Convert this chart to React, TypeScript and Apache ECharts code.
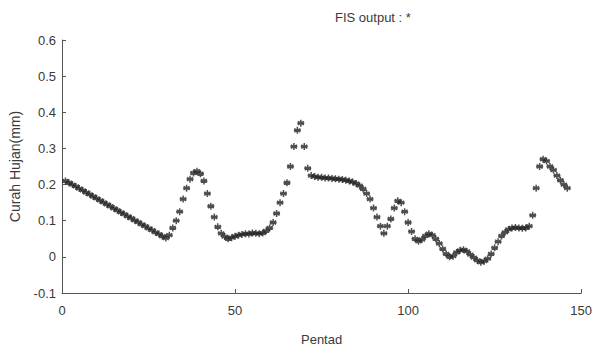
import React, { useEffect, useRef } from "react";
import * as echarts from "echarts";

const titleText = "FIS output : *";
const xName = "Pentad";
const yName = "Curah Hujan(mm)";
const xTicks = [0, 50, 100, 150];
const yTicks = [-0.1, 0, 0.1, 0.2, 0.3, 0.4, 0.5, 0.6];

// FIS output per pentad (pentad 1 .. 146)
const fisOutput = [
  0.210, 0.205, 0.200, 0.195, 0.189, 0.184, 0.178, 0.173, 0.167, 0.162,
  0.156, 0.151, 0.145, 0.140, 0.134, 0.129, 0.123, 0.118, 0.112, 0.107,
  0.101, 0.096, 0.090, 0.085, 0.079, 0.074, 0.068, 0.063, 0.057, 0.052,
  0.060, 0.080, 0.100, 0.125, 0.160, 0.190, 0.215, 0.232, 0.237, 0.230,
  0.210, 0.175, 0.140, 0.110, 0.083, 0.065, 0.056, 0.050, 0.053, 0.057,
  0.060, 0.062, 0.064, 0.063, 0.066, 0.065, 0.064, 0.066, 0.072, 0.080,
  0.095, 0.120, 0.150, 0.175, 0.205, 0.250, 0.305, 0.350, 0.370, 0.305,
  0.245, 0.225, 0.222, 0.220, 0.220, 0.218, 0.218, 0.217, 0.216, 0.215,
  0.214, 0.212, 0.210, 0.207, 0.203, 0.197, 0.188, 0.175, 0.160, 0.135,
  0.110, 0.085, 0.065, 0.085, 0.105, 0.135, 0.155, 0.150, 0.125, 0.095,
  0.070, 0.050, 0.043, 0.048, 0.058, 0.064, 0.060, 0.050, 0.037, 0.022,
  0.008, 0.000, 0.002, 0.012, 0.018, 0.020, 0.015, 0.006, -0.002, -0.010,
  -0.015, -0.012, -0.005, 0.008, 0.025, 0.042, 0.058, 0.068, 0.076, 0.080,
  0.081, 0.080, 0.079, 0.080, 0.085, 0.115, 0.190, 0.250, 0.270, 0.265,
  0.250, 0.240, 0.225, 0.212, 0.200, 0.190,
];

const FONT = "'Liberation Sans', Arial, sans-serif";
const TXT = "#3a3a3a";
const AXIS = "#555";

const asterisk =
  "path://M5 0 L5 10 M0.7 2.5 L9.3 7.5 M9.3 2.5 L0.7 7.5 M0 5 L10 5";

export default function App() {
  const ref = useRef<HTMLDivElement>(null);
  useEffect(() => {
    if (!ref.current) return;
    const chart = echarts.init(ref.current, null, { renderer: "svg" });
    const data = fisOutput.map((v, i) => [i + 1, v]);
    chart.setOption({
      animation: false,
      backgroundColor: "#fff",
      grid: { left: 61, right: 10, top: 40, bottom: 49, containLabel: false },
      graphic: [
        {
          type: "text",
          left: 335,
          top: 11,
          style: { text: titleText, fontSize: 13, fontFamily: FONT, fill: TXT },
        },
      ],
      xAxis: {
        type: "value",
        min: xTicks[0],
        max: xTicks[xTicks.length - 1],
        interval: 50,
        name: xName,
        nameLocation: "middle",
        nameGap: 40,
        nameTextStyle: { fontSize: 13, fontFamily: FONT, color: TXT },
        axisLine: { show: true, onZero: false, lineStyle: { color: AXIS, width: 1 } },
        axisTick: { show: true, inside: true, length: 4, lineStyle: { color: AXIS } },
        axisLabel: { fontSize: 13, fontFamily: FONT, color: TXT, margin: 11 },
        splitLine: { show: false },
      },
      yAxis: {
        type: "value",
        min: yTicks[0],
        max: yTicks[yTicks.length - 1],
        interval: 0.1,
        name: yName,
        nameLocation: "middle",
        nameGap: 40,
        nameTextStyle: { fontSize: 14, fontFamily: FONT, color: TXT },
        axisLine: { show: true, onZero: false, lineStyle: { color: AXIS, width: 1 } },
        axisTick: { show: true, inside: true, length: 4, lineStyle: { color: AXIS } },
        axisLabel: {
          fontSize: 13,
          fontFamily: FONT,
          color: TXT,
          margin: 6,
          formatter: (v: number) => String(Math.round(v * 10) / 10),
        },
        splitLine: { show: false },
      },
      series: [
        {
          type: "scatter",
          data,
          symbol: asterisk,
          symbolSize: 7,
          itemStyle: { color: "rgba(0,0,0,0)", borderColor: "#222", borderWidth: 1.5 },
        },
      ],
    });
    return () => chart.dispose();
  }, []);
  return (
    <div
      ref={ref}
      style={{ position: "fixed", left: 0, top: 0, width: 595, height: 351 }}
    />
  );
}
